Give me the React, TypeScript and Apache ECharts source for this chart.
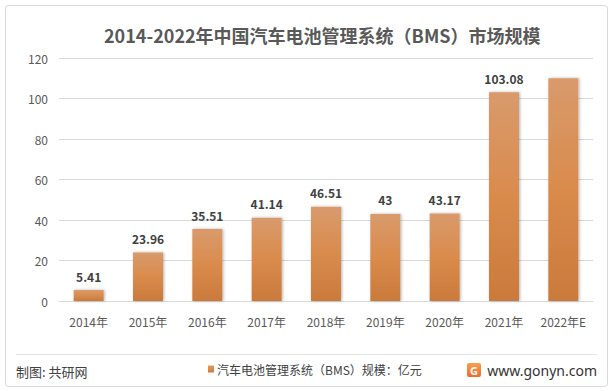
import React, { useEffect, useRef } from "react";
import * as echarts from "echarts";

const categories = ["2014年", "2015年", "2016年", "2017年", "2018年", "2019年", "2020年", "2021年", "2022年E"];
const values = [5.41, 23.96, 35.51, 41.14, 46.51, 43, 43.17, 103.08, 110];
const showLabel = [true, true, true, true, true, true, true, true, false];
const yTicks = { min: 0, max: 120, interval: 20 };
const titleText = "2014-2022年中国汽车电池管理系统（BMS）市场规模";
const seriesName = "汽车电池管理系统（BMS）规模：亿元";
const sourceText = "制图: 共研网";
const siteText = "www.gonyn.com";

const FONT = '"Noto Sans CJK SC", "Noto Sans", sans-serif';

export default function App() {
  const ref = useRef<HTMLDivElement>(null);
  useEffect(() => {
    if (!ref.current) return;
    const chart = echarts.init(ref.current, null, { renderer: "svg" });
    const barColor = new echarts.graphic.LinearGradient(0, 0, 0, 1, [
      { offset: 0, color: "#D99A6C" },
      { offset: 0.5, color: "#D98B4C" },
      { offset: 1, color: "#CA7A3C" },
    ]);
    chart.setOption({
      animation: false,
      backgroundColor: "#ffffff",
      textStyle: { fontFamily: FONT },
      title: {
        text: titleText,
        left: 99,
        top: 21,
        textStyle: { fontSize: 18, fontWeight: "bold", color: "#595959", fontFamily: FONT },
      },
      grid: { left: 59, right: 21, top: 58, bottom: 90 },
      legend: {
        data: [seriesName],
        left: 203,
        top: 358,
        icon: "rect",
        itemWidth: 6,
        itemHeight: 7,
        itemGap: 0,
        textStyle: { fontSize: 12, color: "#404040", fontFamily: FONT, padding: [0, 0, 0, -2] },
      },
      xAxis: {
        type: "category",
        data: categories,
        axisLine: { show: true, lineStyle: { color: "#d9d9d9" } },
        axisTick: { show: false },
        axisLabel: { color: "#595959", fontSize: 12, margin: 14, fontFamily: FONT, interval: 0 },
      },
      yAxis: {
        type: "value",
        min: yTicks.min,
        max: yTicks.max,
        interval: yTicks.interval,
        axisLine: { show: false },
        axisTick: { show: false },
        splitLine: { lineStyle: { color: "#d9d9d9" } },
        axisLabel: { color: "#595959", fontSize: 12, margin: 11, fontFamily: FONT },
      },
      series: [
        {
          name: seriesName,
          type: "bar",
          barWidth: 30,
          data: values.map((v, i) => ({
            value: v,
            label: { show: showLabel[i] },
          })),
          itemStyle: {
            color: barColor,
            shadowColor: "rgba(0,0,0,0.3)",
            shadowBlur: 3,
            shadowOffsetX: 1,
            shadowOffsetY: 0,
          },
          label: {
            show: true,
            position: "top",
            distance: 8,
            color: "#404040",
            fontSize: 12,
            fontWeight: "bold",
            fontFamily: FONT,
          },
        },
      ],
      graphic: [
        {
          type: "rect",
          shape: { x: 5.5, y: 5.5, width: 602, height: 381, r: 3 },
          style: { fill: "none", stroke: "#d9d9d9", lineWidth: 1 },
          silent: true,
        },
        {
          type: "line",
          shape: { x1: 16, y1: 354.5, x2: 597, y2: 354.5 },
          style: { stroke: "#e3e3e3", lineWidth: 1 },
          silent: true,
        },
        {
          type: "text",
          x: 16,
          y: 371,
          style: {
            text: sourceText,
            fontSize: 13,
            fill: "#404040",
            fontFamily: FONT,
            verticalAlign: "middle",
          },
        },
        {
          type: "rect",
          shape: { x: 467, y: 363, width: 14, height: 14, r: 2 },
          style: {
            fill: new echarts.graphic.LinearGradient(0, 0, 0, 1, [
              { offset: 0, color: "#F6A04A" },
              { offset: 1, color: "#EF6A2E" },
            ]),
          },
        },
        {
          type: "text",
          x: 474,
          y: 370.5,
          style: {
            text: "G",
            fontSize: 11,
            fontWeight: "bold",
            fill: "#ffffff",
            fontFamily: "Noto Sans",
            align: "center",
            verticalAlign: "middle",
          },
        },
        {
          type: "text",
          x: 597,
          y: 370,
          style: {
            text: siteText,
            fontSize: 14,
            fill: "#333333",
            fontFamily: '"Noto Sans", sans-serif',
            align: "right",
            verticalAlign: "middle",
          },
        },
      ],
    });
    return () => chart.dispose();
  }, []);
  return (
    <div
      ref={ref}
      style={{ position: "absolute", left: 0, top: 0, width: 614, height: 391 }}
    />
  );
}
